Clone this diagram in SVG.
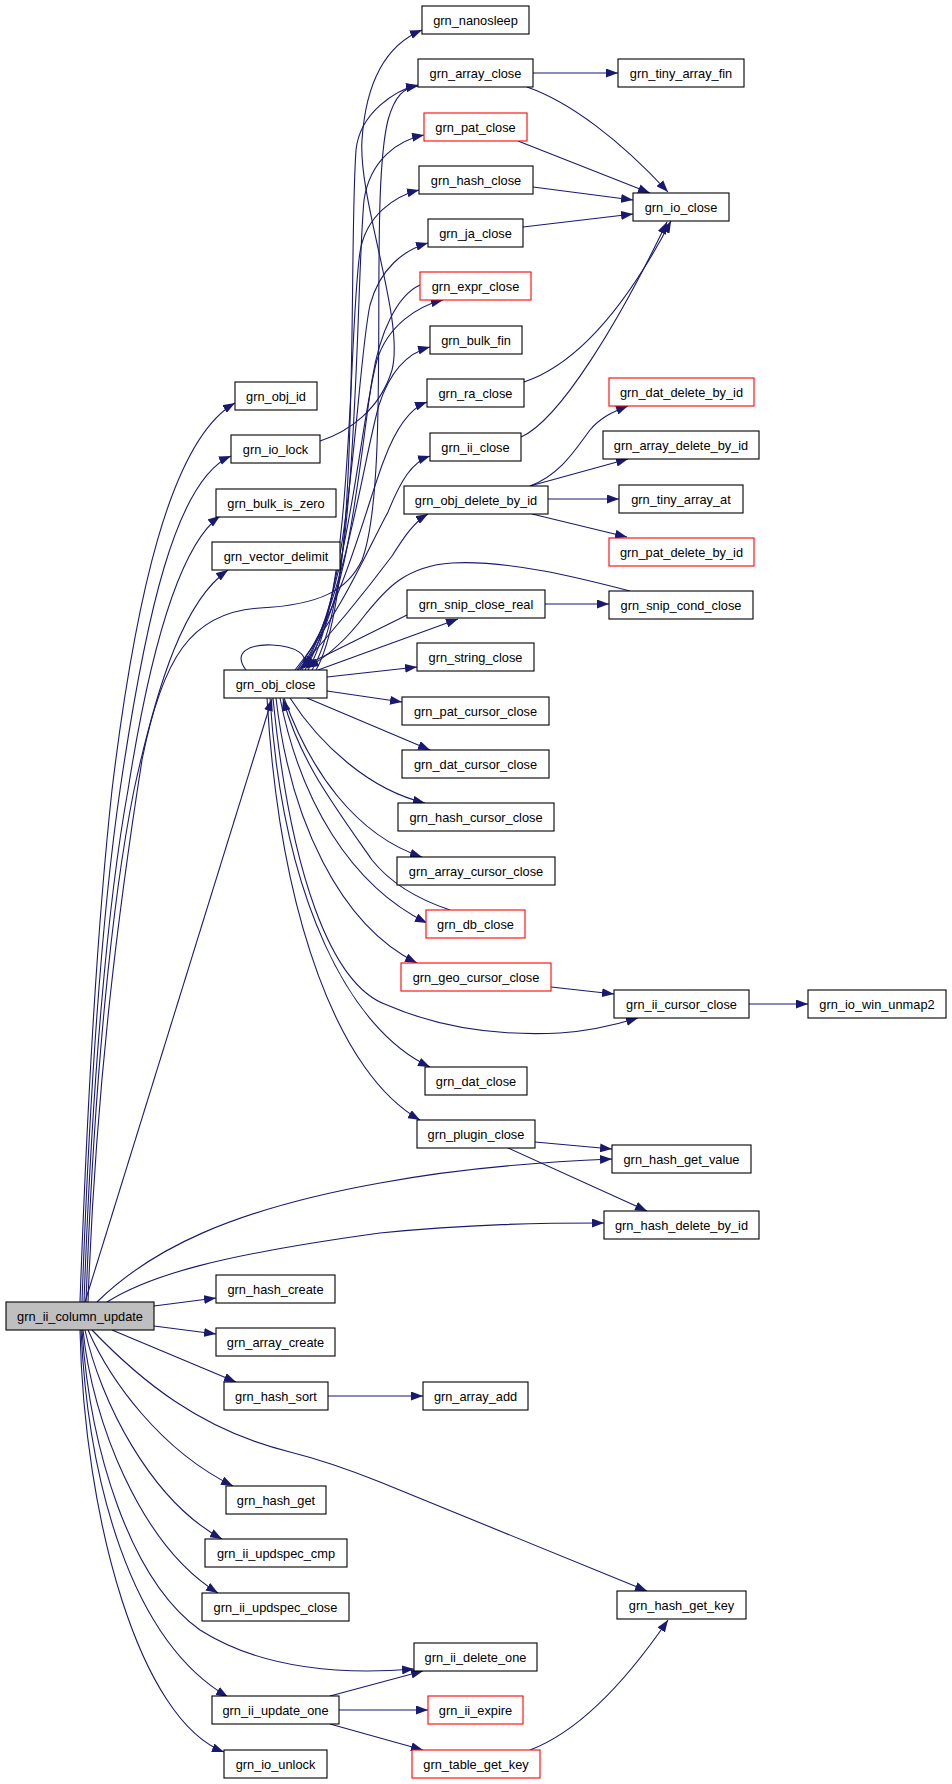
<svg xmlns="http://www.w3.org/2000/svg" width="952" height="1784" viewBox="0 0 952 1784">
<defs>
<style>
.node rect{fill:#fff;stroke:#000;stroke-width:1.1}
.node.red rect{stroke:#ff0000}
.node.root rect{fill:#bfbfbf}
.node text{font-family:"Liberation Sans",Arial,Helvetica,sans-serif;font-size:12.8px;fill:#000;text-anchor:middle}
.edges path{fill:none;stroke:#191970;stroke-width:1.1;marker-end:url(#ah)}
</style>
<marker id="ah" viewBox="0 0 12 9" refX="12" refY="4.5" markerWidth="12" markerHeight="9" orient="auto" markerUnits="userSpaceOnUse"><path d="M0,0 L12,4.5 L0,9 z" fill="#191970"/></marker>
</defs>
<rect width="952" height="1784" fill="#fff"/>
<g class="edges" id="edges">
<path d="M80,1302 C88,1080 100,900 112,790 C135,600 170,440 235,403"/>
<path d="M82,1302 C90,1080 104,900 120,790 C145,620 175,480 231,456"/>
<path d="M84,1302 C92,1080 108,900 128,790 C150,650 180,545 220,516"/>
<path d="M86,1302 C94,1080 112,900 134,790 C158,680 185,600 228,570"/>
<path d="M88,1302 C96,1080 120,900 142,760 C162,660 190,612 260,608 C320,605 348,590 362,560 C392,480 368,200 388,120 C395,95 404,88 418,86"/>
<path d="M85,1302 L272,699"/>
<path d="M97,1302 C150,1250 230,1210 380,1183 C460,1168 540,1162 612,1159"/>
<path d="M107,1302 C150,1275 220,1255 380,1233 C470,1224 540,1223 604,1223"/>
<path d="M154,1306 L216,1298"/>
<path d="M154,1326 L216,1334"/>
<path d="M112,1330 L236,1382"/>
<path d="M92,1330 C140,1380 200,1430 290,1452 Q330,1462 380,1482 L647,1591"/>
<path d="M88,1330 C110,1380 160,1450 233,1486"/>
<path d="M85,1330 C100,1400 150,1500 222,1539"/>
<path d="M83,1330 C92,1420 140,1545 218,1593"/>
<path d="M82,1330 C90,1450 130,1580 200,1630 C260,1668 340,1675 414,1669"/>
<path d="M81,1330 C88,1480 130,1640 228,1697"/>
<path d="M80,1330 C84,1520 140,1720 224,1752"/>
<path d="M320,441 C348,432 380,410 392,370 C405,320 358,200 362,140 C366,80 386,45 422,30"/>
<path d="M316,670 C362,590 348,260 356,150 C360,112 396,90 418,85"/>
<path d="M312,670 C360,590 355,300 364,200 C370,160 398,140 424,135"/>
<path d="M308,670 C355,590 348,330 360,252 C366,215 395,196 419,190"/>
<path d="M305,670 C352,595 356,370 370,305 C380,268 404,250 428,243"/>
<path d="M302,670 C348,600 360,420 377,360 C388,325 418,306 443,300"/>
<path d="M300,670 C345,605 363,460 379,405 C391,368 411,352 430,347"/>
<path d="M297,670 C342,610 368,500 384,460 C397,425 411,408 427,402"/>
<path d="M295,670 C340,615 370,545 388,512 C401,480 412,462 430,456"/>
<path d="M298,670 C343,620 374,580 392,556 C404,537 414,522 428,514"/>
<path d="M420,285 C398,295 380,330 372,380 C358,470 350,600 304,668"/>
<path d="M407,615 L300,668"/>
<path d="M630,591 C580,578 510,560 452,563 C405,566 385,590 365,615 C350,635 330,655 307,668"/>
<path d="M246,670 C232,652 250,644 272,645 C295,646 312,655 301,669"/>
<path d="M450,910 C420,900 392,885 372,860 C330,800 300,760 283,699"/>
<path d="M318,670 L458,619"/>
<path d="M327,677 L417,667"/>
<path d="M327,691 L402,702"/>
<path d="M307,698 L430,750"/>
<path d="M290,698 C320,745 370,790 425,803"/>
<path d="M284,698 C310,770 355,835 422,857"/>
<path d="M280,698 C300,800 350,885 427,923"/>
<path d="M276,698 C290,820 340,925 417,963"/>
<path d="M273,698 C290,870 330,985 387,1005 C440,1028 500,1036 560,1033 C590,1031 615,1025 638,1018"/>
<path d="M270,698 C283,900 350,1030 430,1067"/>
<path d="M267,698 C280,920 340,1075 420,1120"/>
<path d="M533,73 L618,73"/>
<path d="M527,87 C570,102 620,140 668,192"/>
<path d="M518,141 L650,193"/>
<path d="M533,187 L633,200"/>
<path d="M523,227 L633,214"/>
<path d="M524,382 C590,360 640,280 671,221"/>
<path d="M521,437 C560,420 620,320 667,222"/>
<path d="M530,486 C560,475 575,450 590,430 C600,418 612,412 628,406"/>
<path d="M530,486 L628,459"/>
<path d="M548,499 L619,499"/>
<path d="M532,514 L627,537"/>
<path d="M545,604 L609,604"/>
<path d="M551,987 L614,994"/>
<path d="M749,1004 L808,1004"/>
<path d="M535,1142 L612,1149"/>
<path d="M508,1148 L647,1211"/>
<path d="M328,1396 L423,1396"/>
<path d="M330,1696 L423,1671"/>
<path d="M339,1710 L428,1710"/>
<path d="M330,1724 L423,1750"/>
<path d="M530,1750 C575,1733 620,1690 668,1620"/>
</g>
<g id="n_grn_ii_column_update" class="node root"><rect x="6" y="1302" width="148" height="28"/><text x="80" y="1320.6">grn_ii_column_update</text></g>
<g id="n_grn_obj_id" class="node"><rect x="235" y="382" width="82" height="28"/><text x="276" y="400.6">grn_obj_id</text></g>
<g id="n_grn_io_lock" class="node"><rect x="231" y="435" width="89" height="28"/><text x="275.5" y="453.6">grn_io_lock</text></g>
<g id="n_grn_bulk_is_zero" class="node"><rect x="216" y="489" width="120" height="28"/><text x="276" y="507.6">grn_bulk_is_zero</text></g>
<g id="n_grn_vector_delimit" class="node"><rect x="212" y="542" width="128" height="28"/><text x="276" y="560.6">grn_vector_delimit</text></g>
<g id="n_grn_obj_close" class="node"><rect x="224" y="670" width="103" height="28"/><text x="275.5" y="688.6">grn_obj_close</text></g>
<g id="n_grn_hash_create" class="node"><rect x="216" y="1275" width="119" height="28"/><text x="275.5" y="1293.6">grn_hash_create</text></g>
<g id="n_grn_array_create" class="node"><rect x="216" y="1328" width="119" height="28"/><text x="275.5" y="1346.6">grn_array_create</text></g>
<g id="n_grn_hash_sort" class="node"><rect x="224" y="1382" width="104" height="28"/><text x="276" y="1400.6">grn_hash_sort</text></g>
<g id="n_grn_hash_get" class="node"><rect x="226" y="1486" width="100" height="28"/><text x="276" y="1504.6">grn_hash_get</text></g>
<g id="n_grn_ii_updspec_cmp" class="node"><rect x="205" y="1539" width="142" height="28"/><text x="276" y="1557.6">grn_ii_updspec_cmp</text></g>
<g id="n_grn_ii_updspec_close" class="node"><rect x="202" y="1593" width="147" height="28"/><text x="275.5" y="1611.6">grn_ii_updspec_close</text></g>
<g id="n_grn_ii_update_one" class="node"><rect x="212" y="1696" width="127" height="28"/><text x="275.5" y="1714.6">grn_ii_update_one</text></g>
<g id="n_grn_io_unlock" class="node"><rect x="224" y="1750" width="103" height="28"/><text x="275.5" y="1768.6">grn_io_unlock</text></g>
<g id="n_grn_nanosleep" class="node"><rect x="422" y="6" width="107" height="28"/><text x="475.5" y="24.6">grn_nanosleep</text></g>
<g id="n_grn_array_close" class="node"><rect x="418" y="59" width="115" height="28"/><text x="475.5" y="77.6">grn_array_close</text></g>
<g id="n_grn_pat_close" class="node red"><rect x="424" y="113" width="103" height="28"/><text x="475.5" y="131.6">grn_pat_close</text></g>
<g id="n_grn_hash_close" class="node"><rect x="419" y="166" width="114" height="28"/><text x="476" y="184.6">grn_hash_close</text></g>
<g id="n_grn_ja_close" class="node"><rect x="428" y="219" width="95" height="28"/><text x="475.5" y="237.6">grn_ja_close</text></g>
<g id="n_grn_expr_close" class="node red"><rect x="420" y="272" width="111" height="28"/><text x="475.5" y="290.6">grn_expr_close</text></g>
<g id="n_grn_bulk_fin" class="node"><rect x="430" y="326" width="92" height="28"/><text x="476" y="344.6">grn_bulk_fin</text></g>
<g id="n_grn_ra_close" class="node"><rect x="427" y="379" width="97" height="28"/><text x="475.5" y="397.6">grn_ra_close</text></g>
<g id="n_grn_ii_close" class="node"><rect x="430" y="433" width="91" height="28"/><text x="475.5" y="451.6">grn_ii_close</text></g>
<g id="n_grn_obj_delete_by_id" class="node"><rect x="404" y="486" width="144" height="28"/><text x="476" y="504.6">grn_obj_delete_by_id</text></g>
<g id="n_grn_snip_close_real" class="node"><rect x="407" y="590" width="138" height="28"/><text x="476" y="608.6">grn_snip_close_real</text></g>
<g id="n_grn_string_close" class="node"><rect x="417" y="643" width="117" height="28"/><text x="475.5" y="661.6">grn_string_close</text></g>
<g id="n_grn_pat_cursor_close" class="node"><rect x="402" y="697" width="147" height="28"/><text x="475.5" y="715.6">grn_pat_cursor_close</text></g>
<g id="n_grn_dat_cursor_close" class="node"><rect x="402" y="750" width="147" height="28"/><text x="475.5" y="768.6">grn_dat_cursor_close</text></g>
<g id="n_grn_hash_cursor_close" class="node"><rect x="398" y="803" width="156" height="28"/><text x="476" y="821.6">grn_hash_cursor_close</text></g>
<g id="n_grn_array_cursor_close" class="node"><rect x="397" y="857" width="158" height="28"/><text x="476" y="875.6">grn_array_cursor_close</text></g>
<g id="n_grn_db_close" class="node red"><rect x="426" y="910" width="99" height="28"/><text x="475.5" y="928.6">grn_db_close</text></g>
<g id="n_grn_geo_cursor_close" class="node red"><rect x="401" y="963" width="150" height="28"/><text x="476" y="981.6">grn_geo_cursor_close</text></g>
<g id="n_grn_dat_close" class="node"><rect x="425" y="1067" width="102" height="28"/><text x="476" y="1085.6">grn_dat_close</text></g>
<g id="n_grn_plugin_close" class="node"><rect x="417" y="1120" width="118" height="28"/><text x="476" y="1138.6">grn_plugin_close</text></g>
<g id="n_grn_array_add" class="node"><rect x="423" y="1382" width="105" height="28"/><text x="475.5" y="1400.6">grn_array_add</text></g>
<g id="n_grn_ii_delete_one" class="node"><rect x="414" y="1643" width="123" height="28"/><text x="475.5" y="1661.6">grn_ii_delete_one</text></g>
<g id="n_grn_ii_expire" class="node red"><rect x="428" y="1696" width="95" height="28"/><text x="475.5" y="1714.6">grn_ii_expire</text></g>
<g id="n_grn_table_get_key" class="node red"><rect x="412" y="1750" width="128" height="28"/><text x="476" y="1768.6">grn_table_get_key</text></g>
<g id="n_grn_tiny_array_fin" class="node"><rect x="618" y="59" width="126" height="28"/><text x="681" y="77.6">grn_tiny_array_fin</text></g>
<g id="n_grn_io_close" class="node"><rect x="633" y="193" width="96" height="28"/><text x="681" y="211.6">grn_io_close</text></g>
<g id="n_grn_dat_delete_by_id" class="node red"><rect x="609" y="378" width="145" height="28"/><text x="681.5" y="396.6">grn_dat_delete_by_id</text></g>
<g id="n_grn_array_delete_by_id" class="node"><rect x="603" y="431" width="156" height="28"/><text x="681" y="449.6">grn_array_delete_by_id</text></g>
<g id="n_grn_tiny_array_at" class="node"><rect x="619" y="485" width="124" height="28"/><text x="681" y="503.6">grn_tiny_array_at</text></g>
<g id="n_grn_pat_delete_by_id" class="node red"><rect x="609" y="538" width="145" height="28"/><text x="681.5" y="556.6">grn_pat_delete_by_id</text></g>
<g id="n_grn_snip_cond_close" class="node"><rect x="609" y="591" width="144" height="28"/><text x="681" y="609.6">grn_snip_cond_close</text></g>
<g id="n_grn_ii_cursor_close" class="node"><rect x="614" y="990" width="135" height="28"/><text x="681.5" y="1008.6">grn_ii_cursor_close</text></g>
<g id="n_grn_hash_get_value" class="node"><rect x="612" y="1145" width="139" height="28"/><text x="681.5" y="1163.6">grn_hash_get_value</text></g>
<g id="n_grn_hash_delete_by_id" class="node"><rect x="604" y="1211" width="155" height="28"/><text x="681.5" y="1229.6">grn_hash_delete_by_id</text></g>
<g id="n_grn_hash_get_key" class="node"><rect x="617" y="1591" width="129" height="28"/><text x="681.5" y="1609.6">grn_hash_get_key</text></g>
<g id="n_grn_io_win_unmap2" class="node"><rect x="808" y="990" width="138" height="28"/><text x="877" y="1008.6">grn_io_win_unmap2</text></g>
</svg>
